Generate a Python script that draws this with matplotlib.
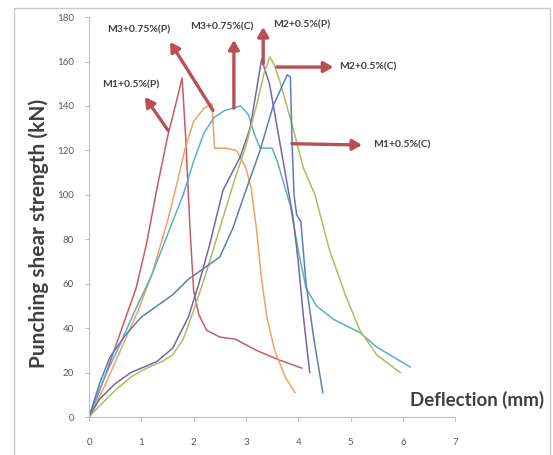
import matplotlib
matplotlib.use("Agg")
import matplotlib.pyplot as plt
from matplotlib.patches import Rectangle

plt.rcParams['font.family'] = ['Lato', 'DejaVu Sans']

# ---- data (deflection mm, load kN) ----
m1p_x = [0, 0.3, 0.6, 0.9, 1.1, 1.3, 1.5, 1.65, 1.78, 1.85, 1.93, 2.0, 2.1, 2.25, 2.5, 2.8, 3.2, 3.6, 4.07]
m1p_y = [0, 18, 38, 58, 78, 103, 126, 140, 152.6, 125, 85, 57, 46, 39, 36, 35, 30, 26, 22]

m3p_x = [0, 0.3, 0.6, 0.94, 1.2, 1.5, 1.7, 1.85, 2.0, 2.2, 2.35, 2.4, 2.6, 2.82, 3.0, 3.1, 3.2, 3.3, 3.4, 3.55, 3.75, 3.94]
m3p_y = [0, 14, 30, 48, 64, 88, 107, 122, 133, 139, 141, 121, 121, 120, 112, 103, 85, 62, 45, 30, 18, 11]

m3c_x = [0, 0.3, 0.6, 0.88, 1.2, 1.5, 1.8, 2.0, 2.2, 2.4, 2.6, 2.9, 3.05, 3.15, 3.27, 3.5, 3.6, 3.7, 3.85, 4.0, 4.15, 4.35, 4.67, 5.18, 5.5, 6.14]
m3c_y = [0, 18, 33, 48, 64, 82, 100, 115, 128, 135, 138, 140, 136, 128, 121, 121, 115, 107, 95, 75, 58, 50, 44, 38, 31.5, 22.5]

m2p_x = [0, 0.2, 0.5, 0.8, 1.0, 1.3, 1.6, 1.9, 2.1, 2.3, 2.56, 2.89, 3.08, 3.3, 3.45, 3.6, 3.75, 3.9, 4.0, 4.1, 4.22]
m2p_y = [0, 8, 15, 20, 22, 25, 31, 45, 60, 77, 102, 117, 130, 161, 150, 130, 110, 90, 70, 45, 20]

m2c_x = [0, 0.2, 0.5, 0.8, 1.1, 1.4, 1.6, 1.8, 2.0, 2.2, 2.5, 2.8, 3.0, 3.2, 3.35, 3.46, 3.55, 3.65, 3.9, 4.1, 4.32, 4.6, 4.9, 5.18, 5.5, 5.95]
m2c_y = [0, 5, 12, 18, 22, 25, 28, 35, 48, 62, 85, 108, 122, 140, 155, 162, 158, 151, 130, 112, 100, 75, 55, 39, 28, 20]

m1c_x = [0, 0.2, 0.4, 0.7, 1.0, 1.3, 1.6, 1.9, 2.2, 2.5, 2.75, 2.94, 3.27, 3.52, 3.79, 3.85, 3.88, 3.92, 3.97, 4.05, 4.15, 4.3, 4.47]
m1c_y = [0, 15, 27, 37, 45, 50, 55, 62, 67, 72, 85, 98, 120, 140, 154, 153, 125, 100, 91, 88, 60, 35, 11]

labels = ['M1+0.5%(P)', 'M3+0.75%(P)', 'M3+0.75%(C)', 'M2+0.5%(P)', 'M2+0.5%(C)', 'M1+0.5%(C)']
x_ticks = [0, 1, 2, 3, 4, 5, 6, 7]
y_ticks = [0, 20, 40, 60, 80, 100, 120, 140, 160, 180]

series = [
    (m1p_x, m1p_y, '#C85A64'),
    (m3p_x, m3p_y, '#F4A060'),
    (m3c_x, m3c_y, '#5AB0C8'),
    (m2p_x, m2p_y, '#7A64A8'),
    (m2c_x, m2c_y, '#A8C060'),
    (m1c_x, m1c_y, '#5A7EB8'),
]

fig = plt.figure(figsize=(5.53, 4.55), dpi=100)
fig.patches.append(Rectangle((14 / 553, -0.01), (550 - 14) / 553, 1.01 - 8 / 455,
                             transform=fig.transFigure, fill=False,
                             edgecolor='#C8C8C8', linewidth=1))
ax = fig.add_axes([0.161, 0.0835, 0.662, 0.879])

for (x, y, c) in series:
    ax.plot(x, y, color=c, linewidth=1.1)

ax.set_xlim(0, 7)
ax.set_ylim(0, 180)
ax.set_xticks(x_ticks)
ax.set_yticks(y_ticks)
ax.tick_params(axis='both', labelsize=7, colors='#BFBFBF', labelcolor='#595959',
               length=3, direction='out')
ax.tick_params(axis='x', pad=12)
ax.tick_params(axis='y', pad=8)
for s in ['top', 'right']:
    ax.spines[s].set_visible(False)
for s in ['left', 'bottom']:
    ax.spines[s].set_color('#BFBFBF')

fig.text(39 / 553, 1 - 233 / 455, 'Punching shear strength (kN)', fontsize=15,
         fontweight='bold', color='#404040', rotation=90, ha='center', va='center')
fig.text(544 / 553, 1 - 400 / 455, 'Deflection (mm)', fontsize=13.5, fontweight='bold',
         color='#404040', ha='right', va='center')

arrow_kw = dict(arrowstyle='-|>,head_length=0.55,head_width=0.32', color='#B85058',
                linewidth=2.4, shrinkA=0, shrinkB=0)
annots = [
    (labels[0], (1.51, 129), (1.07, 144), (0.80, 149.4)),
    (labels[1], (2.37, 138), (1.55, 168.8), (0.94, 174.0)),
    (labels[2], (2.77, 139), (2.77, 169.7), (2.54, 175.5)),
    (labels[3], (3.33, 159), (3.33, 175.5), (4.07, 176.4)),
    (labels[4], (3.59, 157.5), (4.67, 157.5), (5.34, 157.5)),
    (labels[5], (3.88, 123), (5.22, 122.4), (5.98, 122.4)),
]
for text, tail, head, pos in annots:
    ax.annotate('', xy=head, xytext=tail, arrowprops=arrow_kw)
    ax.text(pos[0], pos[1], text, fontsize=7.5, fontweight='bold', color='#404040',
            ha='center', va='center')

fig.savefig('out.png', dpi=100)
